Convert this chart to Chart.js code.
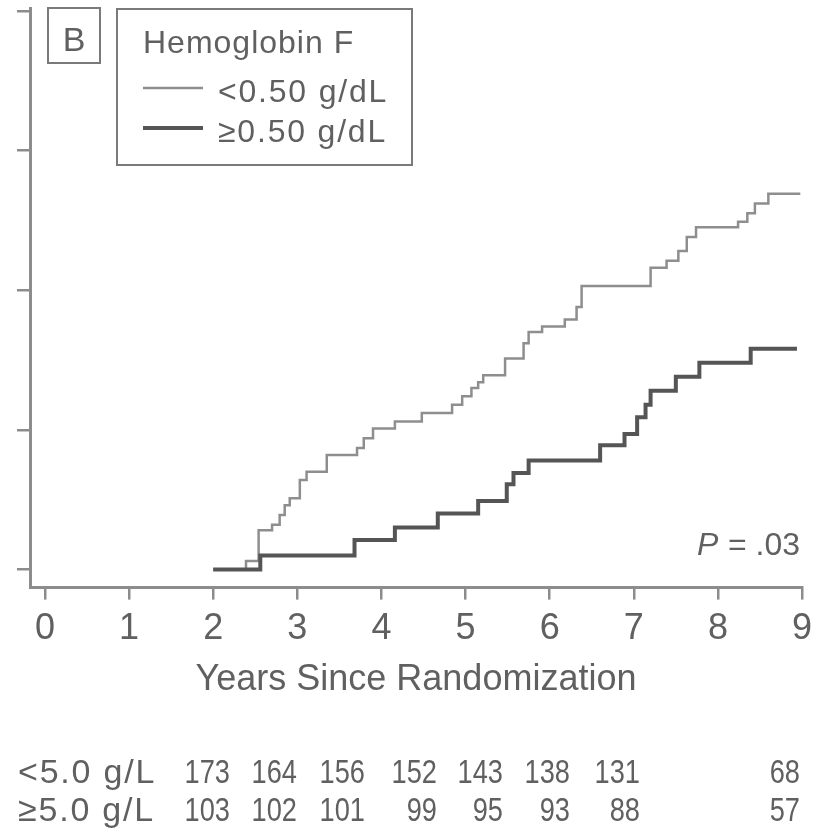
<!DOCTYPE html>
<html>
<head>
<meta charset="utf-8">
<script src="https://cdn.jsdelivr.net/npm/chart.js@4.4.0/dist/chart.umd.min.js"></script>
<style>
  html, body { margin: 0; padding: 0; background: #fff; }
</style>
</head>
<body>
<canvas id="mycanvas" width="823" height="837"></canvas>
<script>
// cumulative incidence (%) by years since randomization, Hb F < 0.50 g/dL
var lowYears = [2.00, 2.39, 2.54, 2.70, 2.79, 2.85, 2.91, 3.03, 3.11, 3.35, 3.71, 3.79, 3.90, 4.16, 4.48, 4.84, 4.96, 5.07, 5.15, 5.21, 5.47, 5.69, 5.75, 5.91, 6.18, 6.32, 6.38, 7.20, 7.39, 7.53, 7.63, 7.74, 8.24, 8.35, 8.44, 8.60, 8.98];
var lowPct   = [0, 0.6, 2.8, 3.2, 3.9, 4.6, 5.1, 6.4, 7.0, 8.2, 8.7, 9.4, 10.1, 10.6, 11.2, 11.8, 12.4, 13.0, 13.4, 13.9, 15.1, 16.2, 17.0, 17.4, 17.9, 18.8, 20.3, 21.6, 22.1, 22.8, 23.8, 24.5, 24.9, 25.5, 26.2, 26.9, 26.9];

// Hb F >= 0.50 g/dL
var highYears = [2.00, 2.56, 3.68, 4.16, 4.67, 5.15, 5.49, 5.57, 5.75, 6.60, 6.89, 7.04, 7.14, 7.20, 7.50, 7.78, 8.39, 8.94];
var highPct   = [0, 1.0, 2.1, 3.0, 4.0, 4.9, 6.1, 6.9, 7.8, 8.9, 9.7, 10.9, 11.8, 12.8, 13.8, 14.8, 15.8, 15.8];

var xTicks = [0, 1, 2, 3, 4, 5, 6, 7, 8, 9];
var yTicks = [0, 10, 20, 30, 40];

var seriesNames = ['<0.50 g/dL', '\u22650.50 g/dL'];
var legendTitle = 'Hemoglobin F';
var panelLetter = 'B';
var pValue = '= .03';

// numbers at risk
var riskLabels = ['<5.0 g/L', '\u22655.0 g/L'];
var riskLow  = [173, 164, 156, 152, 143, 138, 131, 68];
var riskHigh = [103, 102, 101, 99, 95, 93, 88, 57];

var family = "'Liberation Sans', Arial, Helvetica, sans-serif";
var textColor = '#606060';
var axisColor = '#8c8c8c';

function toPoints(xs, ys) {
  return xs.map(function (x, i) { return { x: x, y: ys[i] }; });
}

var extras = {
  id: 'extras',
  afterDraw: function (chart) {
    var ctx = chart.ctx;
    ctx.save();
    ctx.fillStyle = textColor;
    ctx.textBaseline = 'alphabetic';

    // panel letter box
    ctx.strokeStyle = '#7a7a7a';
    ctx.lineWidth = 2;
    ctx.strokeRect(48, 8, 52, 55);
    ctx.font = '34px ' + family;
    ctx.textAlign = 'center';
    ctx.fillText(panelLetter, 74, 51);

    // legend box
    ctx.strokeRect(117, 9, 295, 156);
    ctx.textAlign = 'left';
    ctx.font = '32px ' + family;
    ctx.letterSpacing = '1px';
    ctx.fillText(legendTitle, 143, 53);
    ctx.letterSpacing = '1.8px';
    chart.data.datasets.forEach(function (ds, i) {
      var y = 88 + i * 40;
      ctx.strokeStyle = ds.borderColor;
      ctx.lineWidth = ds.borderWidth;
      ctx.beginPath();
      ctx.moveTo(143, y);
      ctx.lineTo(203, y);
      ctx.stroke();
      ctx.fillText(ds.label, 218, y + 14);
    });
    ctx.letterSpacing = '0px';

    // log-rank P
    ctx.font = 'italic 32px ' + family;
    ctx.fillText('P', 697, 555);
    ctx.font = '32px ' + family;
    ctx.fillText(pValue, 728, 555);

    // numbers at risk table
    var cols = [230, 297, 365, 437, 503, 570, 640, 800];
    [riskLow, riskHigh].forEach(function (row, r) {
      var y = 783 + r * 38;
      ctx.font = '34px ' + family;
      ctx.textAlign = 'left';
      ctx.letterSpacing = '1.8px';
      ctx.fillText(riskLabels[r], 18, y);
      ctx.letterSpacing = '0px';
      row.forEach(function (n, c) {
        ctx.save();
        ctx.translate(cols[c], y);
        ctx.scale(0.8, 1);
        ctx.textAlign = 'right';
        ctx.fillText(String(n), 0, 0);
        ctx.restore();
      });
    });
    ctx.restore();
  }
};

var ctx = document.getElementById('mycanvas').getContext('2d');
var chart = new Chart(ctx, {
  type: 'line',
  data: {
    datasets: [
      {
        label: seriesNames[0],
        data: toPoints(lowYears, lowPct),
        borderColor: '#8e8e8e',
        borderWidth: 2.5,
        stepped: true,
        pointRadius: 0,
        fill: false,
        order: 2
      },
      {
        label: seriesNames[1],
        data: toPoints(highYears, highPct),
        borderColor: '#555555',
        borderWidth: 4,
        stepped: true,
        pointRadius: 0,
        fill: false,
        order: 1
      }
    ]
  },
  options: {
    responsive: false,
    animation: false,
    layout: { padding: { left: 17, right: 21, top: 8, bottom: 135 } },
    plugins: {
      legend: { display: false },
      tooltip: { enabled: false }
    },
    scales: {
      x: {
        type: 'linear',
        min: -0.178,
        max: 9,
        afterBuildTicks: function (scale) {
          scale.ticks = xTicks.map(function (v) { return { value: v }; });
        },
        border: { color: axisColor, width: 3 },
        grid: { drawOnChartArea: false, color: axisColor, lineWidth: 2.5, tickLength: 12 },
        ticks: { color: textColor, font: { family: family, size: 36 }, padding: 8, maxRotation: 0 },
        title: {
          display: true,
          text: 'Years Since Randomization',
          color: textColor,
          font: { family: family, size: 36 },
          padding: { top: 0, bottom: 0 }
        }
      },
      y: {
        type: 'linear',
        min: -1.3,
        max: 40.2,
        afterBuildTicks: function (scale) {
          scale.ticks = yTicks.map(function (v) { return { value: v }; });
        },
        border: { color: axisColor, width: 3 },
        grid: { drawOnChartArea: false, color: axisColor, lineWidth: 2.5, tickLength: 13 },
        ticks: { display: false }
      }
    }
  },
  plugins: [extras]
});
</script>
</body>
</html>
